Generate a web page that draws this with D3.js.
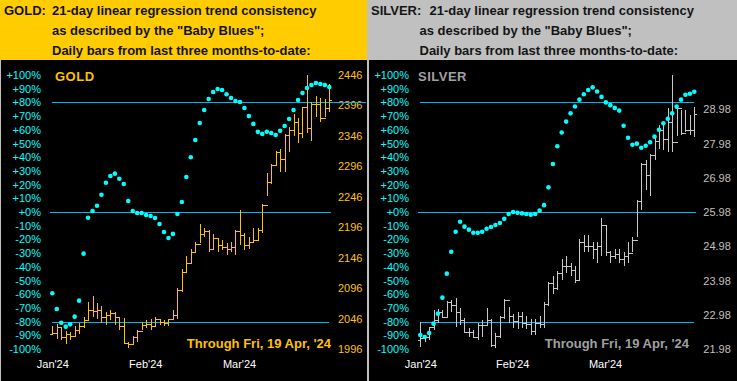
<!DOCTYPE html>
<html><head><meta charset="utf-8">
<script src="https://cdn.jsdelivr.net/npm/d3@7"></script>
<style>
body{margin:0;background:#c0c0c0;overflow:hidden}
svg{display:block}
text{font-family:"Liberation Sans",Arial,sans-serif}
</style></head>
<body><svg id="chart" width="737" height="381"></svg>
<script>
// ---------- DATA ----------
const dates = [
 "Jan 22","Jan 23","Jan 24","Jan 25","Jan 26","Jan 29","Jan 30","Jan 31",
 "Feb 1","Feb 2","Feb 5","Feb 6","Feb 7","Feb 8","Feb 9","Feb 12","Feb 13","Feb 14","Feb 15","Feb 16",
 "Feb 20","Feb 21","Feb 22","Feb 23","Feb 26","Feb 27","Feb 28","Feb 29",
 "Mar 1","Mar 4","Mar 5","Mar 6","Mar 7","Mar 8","Mar 11","Mar 12","Mar 13","Mar 14","Mar 15",
 "Mar 18","Mar 19","Mar 20","Mar 21","Mar 22","Mar 25","Mar 26","Mar 27","Mar 28",
 "Apr 1","Apr 2","Apr 3","Apr 4","Apr 5","Apr 8","Apr 9","Apr 10","Apr 11","Apr 12",
 "Apr 15","Apr 16","Apr 17","Apr 18","Apr 19"];
const monthLabels = ["Jan'24","Feb'24","Mar'24"];
const monthLabelPos = [0, 20.8, 41.8];
const pctTicks = [100,90,80,70,60,50,40,30,20,10,0,-10,-20,-30,-40,-50,-60,-70,-80,-90,-100];
const pctLines = [80,0,-80];
const goldPriceTicks = [2446,2396,2346,2296,2246,2196,2146,2096,2046,1996];
const silverPriceTicks = [28.98,27.98,26.98,25.98,24.98,23.98,22.98,21.98];

const goldHigh = [2033,2037,2030,2026,2024,2033,2038,2049,2074,2083,2071,2066,2057,2060,2057,2049,2047,2008,2017,2027,
 2041,2044,2045,2049,2045,2044,2046,2060,2096,2127,2148,2160,2171,2201,2194,2191,2185,2178,2175,2170,
 2172,2191,2224,2186,2180,2194,2194,2234,2285,2300,2322,2324,2349,2361,2382,2375,2394,2446,2401,2412,2409,2406,2431];
const goldLow = [2019,2012,2011,2005,2010,2016,2021,2030,2044,2049,2046,2039,2035,2044,2035,2027,2005,1997,2005,2008,
 2027,2030,2028,2034,2035,2034,2033,2046,2046,2090,2120,2137,2153,2170,2180,2156,2161,2156,2159,2150,
 2156,2150,2167,2159,2160,2170,2175,2186,2248,2267,2297,2286,2286,2320,2345,2335,2342,2350,2338,2377,2369,2377,2385];
const goldClose = [2023,2032,2016,2021,2017,2027,2034,2044,2060,2059,2060,2049,2052,2055,2049,2034,2006,2005,2016,2026,
 2035,2037,2034,2045,2041,2039,2045,2052,2093,2123,2137,2156,2168,2185,2190,2161,2178,2167,2164,2160,
 2163,2189,2183,2167,2172,2175,2191,2233,2271,2299,2320,2308,2348,2356,2369,2351,2394,2359,2398,2398,2375,2392,2405];
const goldOpen = [2021,2023,2032,2016,2021,2017,2027,2034,2044,2060,2059,2060,2049,2052,2055,2049,2034,2006,2005,2016,
 2026,2035,2037,2034,2045,2041,2039,2045,2052,2093,2123,2137,2156,2168,2185,2190,2161,2178,2167,2164,
 2160,2163,2189,2183,2167,2172,2175,2191,2233,2271,2299,2320,2308,2348,2356,2369,2351,2394,2359,2398,2398,2375,2392];
const goldBlues = [-59.3,-70.8,-80.8,-83.7,-82,-76.4,-64.7,-30.4,-4.2,0.7,4.6,12.6,21.4,26.3,28,24.3,20.4,8,0.7,-0.7,
 -0.7,-2.2,-2.9,-4.4,-8.8,-14.6,-19,-16,-1.5,7.3,25.5,40,52.6,65,74.5,82.5,87.6,89.8,89,86,
 83.2,81,80.3,75.9,70,64.3,58.5,57,58.6,57.7,56.2,59.3,62.8,67.9,74.5,81.8,86.9,90.5,92.7,94.2,93.4,92.7,91.2];

const silverHigh = [22.78,22.39,22.63,23.12,23.14,23.12,23.39,23.41,23.46,23.17,22.88,22.58,22.53,22.73,22.83,23.17,22.85,22.45,22.95,23.45,
 23.2,23.0,23.05,23.05,22.95,22.85,22.85,22.95,23.35,23.95,24.1,24.25,24.6,24.7,24.5,24.4,25.2,25.3,25.3,25.1,
 25.1,25.8,25.6,24.85,24.9,24.9,24.8,25.11,25.26,26.33,27.4,27.5,27.67,28.23,28.52,28.57,29.01,29.98,29.05,28.96,28.96,28.81,29.05];
const silverLow = [22.05,22.19,22.24,22.53,22.73,22.88,22.92,23.07,22.63,22.68,22.49,22.34,22.29,22.24,22.34,22.68,22.05,22.0,22.3,22.85,
 22.75,22.6,22.55,22.6,22.55,22.4,22.4,22.6,22.6,23.25,23.6,23.7,24.0,24.2,24.1,23.9,24.0,24.8,24.8,24.6,
 24.5,24.7,24.7,24.5,24.6,24.5,24.4,24.48,24.82,25.26,26.04,26.62,26.45,27.5,27.81,27.79,27.74,27.74,28.2,28.22,28.32,28.23,28.18];
const silverClose = [22.29,22.34,22.61,22.83,23.07,22.92,23.36,23.26,23.07,22.83,22.49,22.49,22.34,22.68,22.68,22.83,22.1,22.35,22.9,23.4,
 22.95,22.8,22.95,22.75,22.7,22.5,22.75,22.7,23.3,23.9,23.75,24.2,24.4,24.4,24.3,24.0,25.1,25.0,25.0,24.9,
 25.0,25.6,24.8,24.7,24.75,24.6,24.7,24.77,25.16,26.31,27.38,27.06,27.64,28.05,28.37,28.11,28.62,28.03,29.03,28.28,28.37,28.37,28.84];
const silverOpen = [22.25,22.29,22.34,22.61,22.83,23.07,22.92,23.36,23.26,23.07,22.83,22.49,22.49,22.34,22.68,22.68,22.83,22.1,22.35,22.9,
 23.4,22.95,22.8,22.95,22.75,22.7,22.5,22.75,22.7,23.3,23.9,23.75,24.2,24.4,24.4,24.3,24.0,25.1,25.0,25.0,
 24.9,25.0,25.6,24.8,24.7,24.75,24.6,24.7,24.77,25.16,26.31,27.38,27.06,27.64,28.05,28.37,28.11,28.62,28.03,29.03,28.28,28.37,28.37];
const silverBlues = [-89.8,-91.2,-88.3,-81.5,-74.2,-62.5,-45,-29,-14.4,-7.1,-10.7,-12.9,-15.1,-15.1,-14.4,-12.2,-11,-9.5,-8,-5,
 -1.5,0,-0.5,-1,-1.5,-2,-1.5,1,5,18,35,48,58,66,72,77,82,86,89,91,
 88,84,80,78,76,74,63,54.2,49.1,49.9,46.9,48.4,50.9,55,60,64.7,68.1,72,76.9,82,85.6,86.3,87.8];

// ---------- DRAW ----------
const svg = d3.select("#chart");
const H = 381, headH = 60;

function panel(cfg){
  const g = svg.append("g").attr("transform", `translate(${cfg.x0},0)`);
  g.append("rect").attr("x",0).attr("y",0).attr("width",cfg.w).attr("height",headH).attr("fill",cfg.headFill);
  g.append("rect").attr("x",cfg.bx).attr("y",headH).attr("width",cfg.w-cfg.bx).attr("height",H-headH).attr("fill","#000");
  const ht = g.append("g").attr("fill","#141414").attr("font-weight","bold").attr("font-size","13px");
  ht.append("text").attr("x",cfg.t1x).attr("y",15).text(cfg.name+":");
  ht.append("text").attr("x",cfg.t2x).attr("y",15).text("21-day linear regression trend consistency");
  ht.append("text").attr("x",cfg.t3x).attr("y",35).text('as described by the "Baby Blues";');
  ht.append("text").attr("x",cfg.t3x).attr("y",55).text("Daily bars from last three months-to-date:");

  const x = d3.scaleLinear().domain([0, dates.length-1]).range([cfg.xa, cfg.xb]);
  const yP = d3.scaleLinear().domain([-100,100]).range([349,75]);
  const yV = d3.scaleLinear().domain(cfg.priceDomain).range([349,75]);

  const axL = d3.axisLeft(yP).tickValues(pctTicks).tickSize(0).tickPadding(0)
      .tickFormat(d => (d>=0?"+":"")+d+"%");
  const gl = g.append("g").attr("transform","translate(41,0)").call(axL);
  gl.select(".domain").remove();
  gl.selectAll("text").attr("fill","#00ffff").attr("font-size","11px").attr("font-family","Liberation Sans, Arial, sans-serif");

  const axR = d3.axisRight(yV).tickValues(cfg.priceTicks).tickSize(0).tickPadding(0).tickFormat(cfg.fmt);
  const gr = g.append("g").attr("transform",`translate(${cfg.px},0)`).call(axR);
  gr.select(".domain").remove();
  gr.selectAll("text").attr("fill",cfg.priceColor).attr("font-size","11px").attr("font-family","Liberation Sans, Arial, sans-serif");

  const axB = d3.axisBottom(x).tickValues(monthLabelPos).tickSize(0).tickPadding(0)
      .tickFormat((d,i)=>monthLabels[i]);
  const gb = g.append("g").attr("transform","translate(0,360)").call(axB);
  gb.select(".domain").remove();
  gb.selectAll("text").attr("fill","#ffffff").attr("font-size","11px").attr("font-family","Liberation Sans, Arial, sans-serif");

  g.append("g").selectAll("line").data(pctLines).join("line")
    .attr("x1",(d,i)=>cfg.lineX1[i]).attr("x2",(d,i)=>cfg.lineX2[i])
    .attr("y1",d=>Math.round(yP(d))+0.5).attr("y2",d=>Math.round(yP(d))+0.5)
    .attr("stroke","#00b4f0").attr("stroke-width",1);

  const bars = g.append("g").attr("stroke",cfg.barColor).attr("stroke-width",1).attr("shape-rendering","crispEdges");
  const idx = d3.range(dates.length);
  bars.selectAll("line.v").data(idx).join("line").attr("class","v")
    .attr("x1",i=>Math.round(x(i))+0.5).attr("x2",i=>Math.round(x(i))+0.5)
    .attr("y1",i=>yV(cfg.high[i])).attr("y2",i=>yV(cfg.low[i]));
  bars.selectAll("line.o").data(idx).join("line").attr("class","o")
    .attr("x1",i=>Math.round(x(i))-2).attr("x2",i=>Math.round(x(i))+1)
    .attr("y1",i=>Math.round(yV(cfg.open[i]))+0.5).attr("y2",i=>Math.round(yV(cfg.open[i]))+0.5);
  bars.selectAll("line.c").data(idx).join("line").attr("class","c")
    .attr("x1",i=>Math.round(x(i))).attr("x2",i=>Math.round(x(i))+3)
    .attr("y1",i=>Math.round(yV(cfg.close[i]))+0.5).attr("y2",i=>Math.round(yV(cfg.close[i]))+0.5);

  g.append("g").selectAll("circle").data(idx).join("circle")
    .attr("cx",i=>x(i)).attr("cy",i=>yP(cfg.blues[i])).attr("r",2.3).attr("fill","#00ffff");

  g.append("text").attr("x",cfg.nameX).attr("y",80.5).attr("fill",cfg.nameColor)
    .attr("font-weight","bold").attr("font-size","13px").attr("letter-spacing","0.5px").text(cfg.name);
  g.append("text").attr("x",cfg.thruX).attr("y",348).attr("text-anchor","end").attr("fill",cfg.nameColor)
    .attr("font-weight","bold").attr("font-size","13px").text("Through Fri, 19 Apr, '24");
}

panel({x0:0,w:367,bx:1,headFill:"#ffcc00",name:"GOLD",t1x:4,t2x:52,t3x:52,
  xa:52.3,xb:329.3,priceDomain:[1996,2446],priceTicks:goldPriceTicks,fmt:d3.format("d"),px:338,
  priceColor:"#ffc000",barColor:"#ffc000",nameColor:"#ffc000",nameX:55,thruX:331,
  lineX1:[52,50,52],lineX2:[366,331,329],
  high:goldHigh,low:goldLow,open:goldOpen,close:goldClose,blues:goldBlues});

panel({x0:368,w:369,bx:1,headFill:"#c0c0c0",name:"SILVER",t1x:3,t2x:61.5,t3x:51.5,
  xa:52.3,xb:326.3,priceDomain:[21.98,29.98],priceTicks:silverPriceTicks,fmt:d3.format(".2f"),px:335.3,
  priceColor:"#c0c0c0",barColor:"#c8c8c8",nameColor:"#a0a0a0",nameX:50,thruX:321,
  lineX1:[52,50,52],lineX2:[326,328,326],
  high:silverHigh,low:silverLow,open:silverOpen,close:silverClose,blues:silverBlues});
</script>
</body></html>
